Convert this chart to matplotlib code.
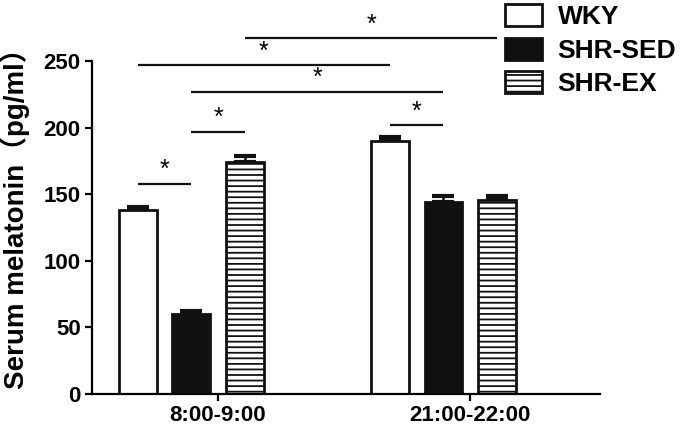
import numpy as np
import matplotlib
matplotlib.use('Agg')
import matplotlib.pyplot as plt

plt.rcParams['font.family'] = ['Liberation Sans', 'Noto Sans CJK SC', 'DejaVu Sans']
plt.rcParams['hatch.linewidth'] = 1.3

# data
times = ['8:00-9:00', '21:00-22:00']
groups = ['WKY', 'SHR-SED', 'SHR-EX']
means = {
    'WKY': [138, 190],
    'SHR-SED': [60, 144],
    'SHR-EX': [174, 146],
}
errs = {
    'WKY': [2.5, 3],
    'SHR-SED': [2, 5],
    'SHR-EX': [5, 3],
}
# significance pairs: (time_a, group_a, time_b, group_b, height)
sig_pairs = [
    (0, 'WKY', 0, 'SHR-SED', 158),
    (0, 'SHR-SED', 0, 'SHR-EX', 197),
    (1, 'WKY', 1, 'SHR-SED', 202),
    (0, 'SHR-SED', 1, 'SHR-SED', 227),
    (0, 'WKY', 1, 'WKY', 247),
    (0, 'SHR-EX', 1, 'SHR-EX', 267),
]

styles = {
    'WKY': dict(color='white', hatch=None),
    'SHR-SED': dict(color='#111111', hatch=None),
    'SHR-EX': dict(color='white', hatch='---'),
}

fig = plt.figure(figsize=(6.85, 4.30), dpi=100)
ax = fig.add_axes([0.134, 0.084, 0.742, 0.774])

x = np.arange(len(times))
width = 0.15
offsets = {'WKY': -0.318, 'SHR-SED': -0.105, 'SHR-EX': 0.108}

for g in groups:
    st = styles[g]
    ax.bar(x + offsets[g], means[g], width, color=st['color'], hatch=st['hatch'],
           edgecolor='#111111', linewidth=2.0, label=g, zorder=2)
    ax.errorbar(x + offsets[g], means[g], yerr=[np.zeros(2), errs[g]], fmt='none',
                ecolor='#111111', elinewidth=1.8, capsize=8, capthick=3, zorder=1)

# significance bars
for ta, ga, tb, gb, h in sig_pairs:
    xa = ta + offsets[ga]
    xb = tb + offsets[gb]
    ax.plot([xa, xb], [h, h], color='#111111', lw=1.6, clip_on=False,
            solid_capstyle='butt')
    ax.text((xa + xb) / 2, h + 1, '*', ha='center', va='bottom', fontsize=18,
            clip_on=False)

ax.set_xlim(-0.5, 1.516)
ax.set_ylim(0, 250)
ax.set_yticks([0, 50, 100, 150, 200, 250])
ax.set_xticks(x)
ax.set_xticklabels(times)
for lab in ax.get_xticklabels() + ax.get_yticklabels():
    lab.set_fontweight('bold')
    lab.set_fontsize(16)

ax.spines['top'].set_visible(False)
ax.spines['right'].set_visible(False)
for s in ['left', 'bottom']:
    ax.spines[s].set_linewidth(1.6)
ax.tick_params(axis='both', width=1.6, length=5, direction='out', pad=3)
ax.set_ylabel('Serum melatonin（pg/ml）', fontsize=20, fontweight='bold')
ax.yaxis.set_label_coords(-0.122, 0.547)

leg = fig.legend(loc='upper left', bbox_to_anchor=(0.737, 0.99), frameon=False,
                 prop={'weight': 'bold', 'size': 19}, handlelength=1.4,
                 handleheight=0.9, labelspacing=0.32, handletextpad=0.6,
                 borderpad=0, borderaxespad=0)

fig.savefig('out.png', dpi=100)
